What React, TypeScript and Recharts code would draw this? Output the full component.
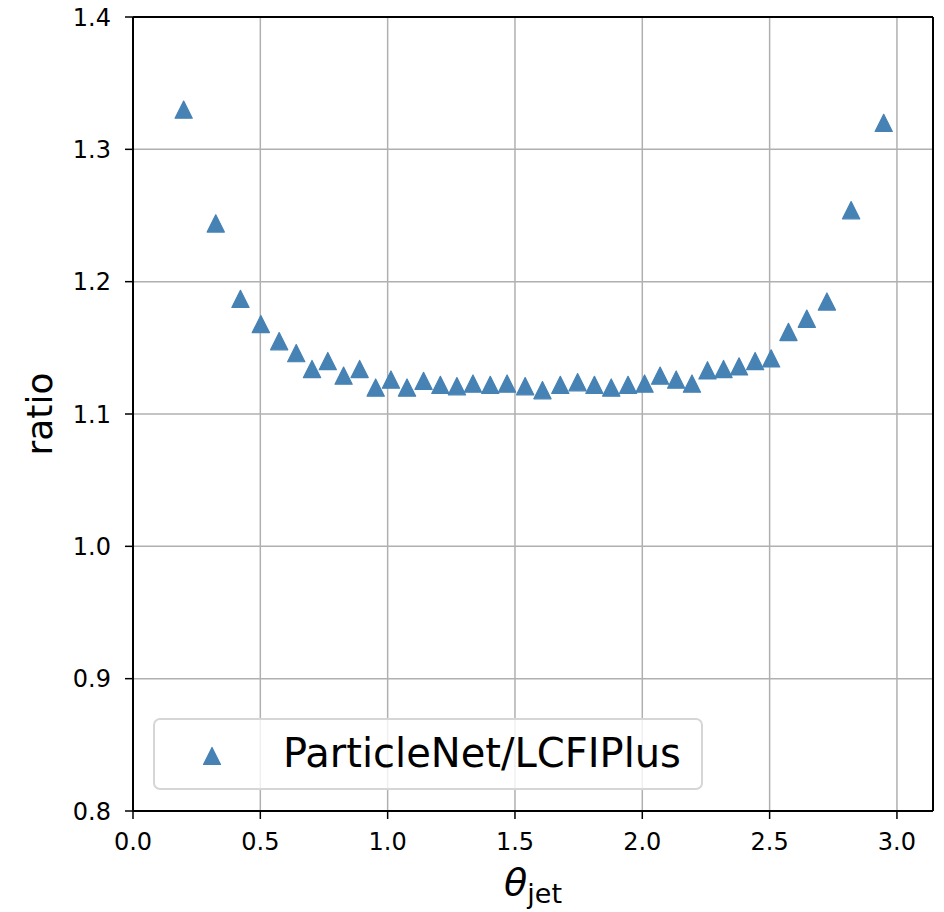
import { ScatterChart, Scatter, XAxis, YAxis, CartesianGrid, Legend, ReferenceLine } from 'recharts'

// bin centres in theta_jet (rad)
const thetaJet = [
  0.199, 0.325, 0.422, 0.502, 0.574, 0.641, 0.703, 0.765, 0.827, 0.890,
  0.953, 1.013, 1.076, 1.141, 1.207, 1.272, 1.335, 1.403, 1.469, 1.540,
  1.608, 1.678, 1.746, 1.812, 1.878, 1.944, 2.009, 2.070, 2.133, 2.195,
  2.256, 2.319, 2.380, 2.443, 2.506, 2.574, 2.646, 2.725, 2.820, 2.948,
]

// ParticleNet / LCFIPlus efficiency ratio
const ratio = [
  1.330, 1.244, 1.187, 1.168, 1.155, 1.146, 1.134, 1.140, 1.129, 1.134,
  1.120, 1.126, 1.120, 1.125, 1.122, 1.121, 1.123, 1.122, 1.123, 1.121,
  1.118, 1.122, 1.124, 1.122, 1.120, 1.122, 1.123, 1.129, 1.126, 1.123,
  1.133, 1.134, 1.136, 1.140, 1.142, 1.162, 1.172, 1.185, 1.254, 1.320,
]

const xTicks = [0, 0.5, 1.0, 1.5, 2.0, 2.5, 3.0]
const yTicks = [0.8, 0.9, 1.0, 1.1, 1.2, 1.3, 1.4]

const seriesName = 'ParticleNet/LCFIPlus'
const markerColor = '#4682b4'
const font = '"DejaVu Sans", sans-serif'

const data = thetaJet.map((t, i) => ({ theta: t, ratio: ratio[i] }))

const Triangle = (props: any) => {
  const { cx, cy } = props
  if (cx == null || cy == null) return null
  const h = 8.6
  return (
    <polygon
      points={`${cx},${cy - h} ${cx - h},${cy + h} ${cx + h},${cy + h}`}
      fill={markerColor}
      stroke={markerColor}
      strokeWidth={1.2}
      strokeLinejoin="round"
    />
  )
}

const LegendBox = () => (
  <div
    style={{
      boxSizing: 'border-box',
      width: 550,
      height: 72,
      background: 'rgba(255,255,255,0.8)',
      border: '2px solid #d6d6d6',
      borderRadius: 7,
      position: 'relative',
      fontFamily: font,
    }}
  >
    <svg width={30} height={30} style={{ position: 'absolute', left: 42, top: 21 }}>
      <polygon points="15,6.5 6.5,23.5 23.5,23.5" fill={markerColor} stroke={markerColor} strokeWidth={1.2} strokeLinejoin="round" />
    </svg>
    <span
      style={{
        position: 'absolute',
        left: 128,
        top: 9,
        fontSize: 40,
        lineHeight: '48px',
        color: '#000',
        whiteSpace: 'nowrap',
      }}
    >
      {seriesName}
    </span>
  </div>
)

const XLabel = (props: any) => {
  const vb = props.viewBox || {}
  const cx = vb.x + vb.width / 2
  return (
    <text x={cx} y={vb.y + 84} textAnchor="middle" fill="#000" fontFamily={font}>
      <tspan fontStyle="italic" fontSize={38}>θ</tspan>
      <tspan fontSize={27} dy={8}>jet</tspan>
    </text>
  )
}

const YLabel = (props: any) => {
  const vb = props.viewBox || {}
  const cy = vb.y + vb.height / 2
  return (
    <text
      x={52}
      y={cy}
      textAnchor="middle"
      fontSize={36}
      fill="#000"
      fontFamily={font}
      transform={`rotate(-90, 52, ${cy})`}
    >
      ratio
    </text>
  )
}

export default function App() {
  return (
    <div style={{ position: 'absolute', left: 0, top: 0, width: 944, height: 912, background: '#fff', fontFamily: font }}>
      <ScatterChart width={944} height={912} margin={{ top: 17, right: 11, bottom: 0, left: 0 }}>
        <CartesianGrid stroke="#b0b0b0" strokeWidth={1.5} />
        <XAxis
          type="number"
          dataKey="theta"
          domain={[0, Math.PI]}
          ticks={xTicks}
          allowDataOverflow
          tickFormatter={(v: number) => v.toFixed(1)}
          height={101}
          tickSize={8}
          tickMargin={14}
          axisLine={{ stroke: '#000', strokeWidth: 2 }}
          tickLine={{ stroke: '#000', strokeWidth: 1.5 }}
          tick={{ fill: '#000', fontSize: 24, fontFamily: font }}
          label={<XLabel />}
        />
        <YAxis
          type="number"
          dataKey="ratio"
          domain={[0.8, 1.4]}
          ticks={yTicks}
          allowDataOverflow
          tickFormatter={(v: number) => v.toFixed(1)}
          width={133}
          tickSize={8}
          tickMargin={14}
          axisLine={{ stroke: '#000', strokeWidth: 2 }}
          tickLine={{ stroke: '#000', strokeWidth: 1.5 }}
          tick={{ fill: '#000', fontSize: 24, fontFamily: font }}
          label={<YLabel />}
        />
        <ReferenceLine y={1.4} stroke="#000" strokeWidth={2} />
        <ReferenceLine x={Math.PI} stroke="#000" strokeWidth={2} />
        <Legend
          layout="vertical"
          verticalAlign="middle"
          align="center"
          content={() => <LegendBox />}
          wrapperStyle={{ left: 153, top: 718, width: 550, height: 72 }}
        />
        <Scatter
          name={seriesName}
          data={data}
          shape={Triangle}
          isAnimationActive={false}
        />
      </ScatterChart>
    </div>
  )
}
